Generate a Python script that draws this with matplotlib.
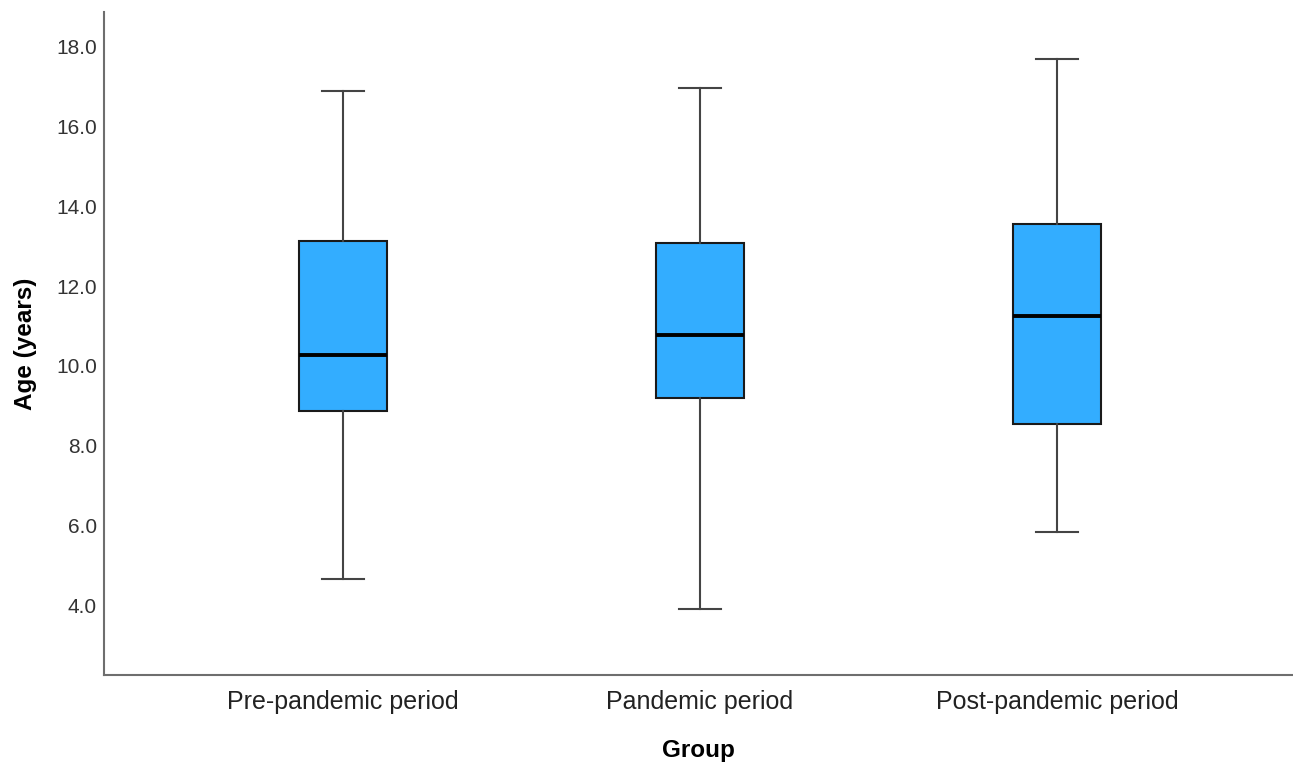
"""
Box plot of age by pandemic period (recreated SPSS-style chart).
"""

import matplotlib
matplotlib.use("Agg")
import matplotlib.pyplot as plt

# ---------------------------------------------------------
# Data
# ---------------------------------------------------------
groups = ["Pre-pandemic period", "Pandemic period", "Post-pandemic period"]
whisker_low = [4.65, 3.90, 5.83]
q1 = [8.87, 9.19, 8.54]
median = [10.27, 10.77, 11.25]
q3 = [13.13, 13.08, 13.56]
whisker_high = [16.90, 16.97, 17.70]

yticks = [4.0, 6.0, 8.0, 10.0, 12.0, 14.0, 16.0, 18.0]

plt.rcParams["font.family"] = ["Liberation Sans", "DejaVu Sans"]

fig = plt.figure(figsize=(12.93, 7.63), dpi=100)
ax = fig.add_axes([0.0804, 0.1153, 0.9196, 0.8690])

stats = []
for i, name in enumerate(groups):
    stats.append({
        "label": name,
        "whislo": whisker_low[i],
        "q1": q1[i],
        "med": median[i],
        "q3": q3[i],
        "whishi": whisker_high[i],
        "fliers": [],
    })

ax.bxp(
    stats,
    positions=[1, 2, 3],
    widths=0.246,
    patch_artist=True,
    showfliers=False,
    boxprops=dict(facecolor="#33adff", edgecolor="#1a1a1a", linewidth=1.5),
    medianprops=dict(color="#000000", linewidth=2.8),
    whiskerprops=dict(color="#444444", linewidth=1.5),
    capprops=dict(color="#444444", linewidth=1.5),
    capwidths=0.12,
)

ax.set_xlim(0.3305, 3.661)
ax.set_ylim(2.244, 18.878)
ax.set_yticks(yticks)
ax.set_yticklabels([f"{v:.1f}" for v in yticks])

ax.tick_params(axis="both", length=0)
ax.tick_params(axis="y", labelsize=15, labelcolor="#333333", pad=5)
ax.tick_params(axis="x", labelsize=18, labelcolor="#222222", pad=11)

for side in ["top", "right"]:
    ax.spines[side].set_visible(False)
for side in ["left", "bottom"]:
    ax.spines[side].set_color("#6e6e6e")
    ax.spines[side].set_linewidth(1.5)

ax.set_xlabel("Group", fontsize=17.5, fontweight="bold", labelpad=18)
ax.set_ylabel("Age (years)", fontsize=17.5, fontweight="bold", labelpad=14)

fig.savefig("out.png", dpi=100, facecolor="white")
